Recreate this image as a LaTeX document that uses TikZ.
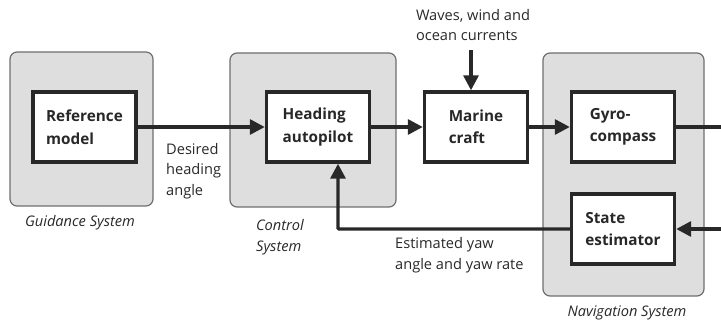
\documentclass[tikz,border=0pt]{standalone}
\usepackage{fontspec}
\setmainfont{Open Sans}
\usetikzlibrary{arrows.meta}
\definecolor{sysfill}{RGB}{222, 222, 222}
\definecolor{sysline}{RGB}{110, 110, 110}
\definecolor{inkgray}{RGB}{40, 40, 40}
\tikzset{
    sysbox/.style={draw=sysline, line width=1.2pt, fill=sysfill, rounded corners=7pt},
    block/.style={draw=inkgray, line width=3.4pt, fill=white, text=inkgray,
        font=\fontsize{15.3}{22.5}\selectfont\bfseries, align=left,
        minimum width=103pt, minimum height=70pt, inner sep=0pt},
    signal/.style={draw=inkgray, line width=3.2pt, -{Triangle[length=15pt, width=15pt]}},
    wire/.style={draw=inkgray, line width=3.2pt},
    lbl/.style={text=inkgray, font=\fontsize{14.6}{20.5}\selectfont, align=left, inner sep=0pt},
    syslbl/.style={lbl, font=\fontsize{14.6}{20.5}\selectfont\itshape},
}

\begin{document}
\begin{tikzpicture}[x=1pt, y=-1pt]
    \useasboundingbox (0, 0) rectangle (721, 323);
    % subsystems
    \node[sysbox, minimum width=143pt, minimum height=154pt] (guid) at (81.5, 129) {};
    \node[sysbox, minimum width=166pt, minimum height=154pt] (ctrl) at (313, 130) {};
    \node[sysbox, minimum width=161pt, minimum height=243pt] (nav) at (623.5, 174.5) {};
    \node[syslbl] (guidlbl) at (80, 223) {Guidance System};
    \node[syslbl] (ctrllbl) at (280, 237) {Control\\System};
    \node[syslbl] (navlbl) at (627, 313) {Navigation System};
    % blocks
    \node[block] (ref) at (84.5, 127) {Reference\\model};
    \node[block] (head) at (318, 127) {Heading\\autopilot};
    \node[block] (craft) at (476, 127) {Marine\\craft};
    \node[block] (gyro) at (623, 127) {Gyro-\\compass};
    \node[block] (estim) at (623, 229) {State\\estimator};
    \coordinate (outR) at (721, 127);
    \coordinate (inR) at (721, 229);
    \coordinate (dist) at (471, 50);
    \coordinate (fbk) at (338, 229);
    % signals
    \draw[signal] (ref) -- (head);
    \draw[signal] (head) -- (craft);
    \draw[signal] (craft) -- (gyro);
    \draw[wire] (gyro) -- (outR);
    \draw[signal] (inR) -- (estim);
    \draw[signal] (dist) -- (dist |- craft.north);
    \draw[signal, rounded corners=1pt] (estim.west) -- (fbk) -- (fbk |- head.south);
    \node[lbl, anchor=west] (desired) at (166, 171) {Desired\\heading\\angle};
    \node[lbl] (waves) at (473, 25) {Waves, wind and\\ocean currents};
    \node[lbl, anchor=west] (yaw) at (395, 255) {Estimated yaw\\angle and yaw rate};
\end{tikzpicture}
\end{document}
